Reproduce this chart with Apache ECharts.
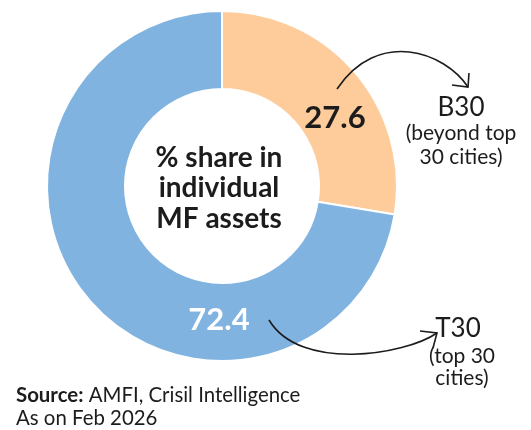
<!DOCTYPE html>
<html>
<head>
<meta charset="utf-8">
<script src="https://cdn.jsdelivr.net/npm/echarts@6/dist/echarts.min.js"></script>
<style>
html,body{margin:0;padding:0;background:#fff;}
#c{width:531px;height:430px;}
</style>
</head>
<body>
<div id="c"></div>
<script>
var categories = ['B30', 'T30'];
var descriptions = ['(beyond top\n30 cities)', '(top 30\ncities)'];
var values = [27.6, 72.4];
var colors = ['#fecc9b', '#80b3e0'];
var centerTitle = '% share in\nindividual\nMF assets';
var sourceText = 'AMFI, Crisil Intelligence';
var dateText = 'As on Feb 2026';

var FONT = 'Lato, "Open Sans", sans-serif';
var INK = '#1c1c1c';

var chart = echarts.init(document.getElementById('c'), null, {renderer: 'canvas'});

var data = categories.map(function (c, i) {
  return {name: c, value: values[i], itemStyle: {color: colors[i]}};
});

function arrow(p0, p1, p2, p3, a1, a2) {
  return [
    {type: 'bezierCurve', shape: {x1: p0[0], y1: p0[1], cpx1: p1[0], cpy1: p1[1], cpx2: p2[0], cpy2: p2[1], x2: p3[0], y2: p3[1]},
      style: {stroke: INK, lineWidth: 1.6, fill: null}, z: 10},
    {type: 'polyline', shape: {points: [a1, p3, a2]},
      style: {stroke: INK, lineWidth: 1.6, fill: null}, z: 10}
  ];
}

var graphics = [
  {type: 'text', x: 219, y: 188, z: 10,
    style: {text: centerTitle, font: 'bold 28px ' + FONT, fill: INK, align: 'center', verticalAlign: 'middle', lineHeight: 30.5}},
  {type: 'text', x: 335, y: 118, z: 10,
    style: {text: String(values[0]), font: 'bold 31px ' + FONT, fill: INK, align: 'center', verticalAlign: 'middle'}},
  {type: 'text', x: 219, y: 320, z: 10,
    style: {text: String(values[1]), font: 'bold 31px ' + FONT, fill: '#ffffff', align: 'center', verticalAlign: 'middle'}},
  {type: 'text', x: 461, y: 108, z: 10,
    style: {text: categories[0], font: '26px ' + FONT, fill: INK, align: 'center', verticalAlign: 'middle'}},
  {type: 'text', x: 461, y: 145, z: 10,
    style: {text: descriptions[0], font: '21px ' + FONT, fill: INK, align: 'center', verticalAlign: 'middle', lineHeight: 24}},
  {type: 'text', x: 458, y: 329, z: 10,
    style: {text: categories[1], font: '26px ' + FONT, fill: INK, align: 'center', verticalAlign: 'middle'}},
  {type: 'text', x: 462, y: 367, z: 10,
    style: {text: descriptions[1], font: '21px ' + FONT, fill: INK, align: 'center', verticalAlign: 'middle', lineHeight: 22}},
  {type: 'text', x: 16, y: 395, z: 10,
    style: {text: '{b|Source:} ' + sourceText, font: '20.4px ' + FONT, fill: INK, verticalAlign: 'middle',
      rich: {b: {font: 'bold 20.4px ' + FONT, fill: INK}}}},
  {type: 'text', x: 16, y: 418, z: 10,
    style: {text: dateText, font: '20.4px ' + FONT, fill: INK, verticalAlign: 'middle'}}
];
graphics = graphics.concat(arrow([337, 89], [378, 28], [445, 52], [468, 87], [452, 85], [469, 73]));
graphics = graphics.concat(arrow([269, 320], [300, 372], [405, 355], [437, 333], [420, 331], [433, 348]));

chart.setOption({
  animation: false,
  backgroundColor: '#ffffff',
  series: [{
    type: 'pie',
    center: [222, 186],
    radius: [97, 175],
    startAngle: 90,
    clockwise: true,
    label: {show: false},
    labelLine: {show: false},
    emphasis: {disabled: true},
    itemStyle: {borderColor: '#ffffff', borderWidth: 2},
    data: data
  }],
  graphic: graphics
});
</script>
</body>
</html>
